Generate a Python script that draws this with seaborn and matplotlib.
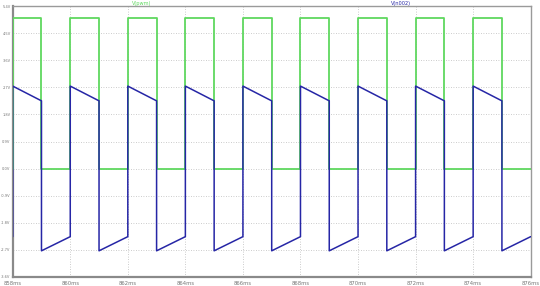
import matplotlib
matplotlib.use("Agg")
import matplotlib.pyplot as plt
import seaborn as sns
import pandas as pd

# ---- data ----
green_t = [858, 858, 859, 859, 860, 860, 861, 861, 862, 862, 863, 863,
           864, 864, 865, 865, 866, 866, 867, 867, 868, 868, 869, 869,
           870, 870, 871, 871, 872, 872, 873, 873, 874, 874, 875, 875, 876]
green_v = [0, 5, 5, 0, 0, 5, 5, 0, 0, 5, 5, 0,
           0, 5, 5, 0, 0, 5, 5, 0, 0, 5, 5, 0,
           0, 5, 5, 0, 0, 5, 5, 0, 0, 5, 5, 0, 0]
blue_t = [858, 858, 859, 859, 860, 860, 861, 861, 862, 862, 863, 863,
          864, 864, 865, 865, 866, 866, 867, 867, 868, 868, 869, 869,
          870, 870, 871, 871, 872, 872, 873, 873, 874, 874, 875, 875, 876]
blue_v = [-2.26, 2.74, 2.25, -2.73, -2.26, 2.74, 2.25, -2.73, -2.26, 2.74, 2.25, -2.73,
          -2.26, 2.74, 2.25, -2.73, -2.26, 2.74, 2.25, -2.73, -2.26, 2.74, 2.25, -2.73,
          -2.26, 2.74, 2.25, -2.73, -2.26, 2.74, 2.25, -2.73, -2.26, 2.74, 2.25, -2.73, -2.26]
y_ticks = [5.4, 4.5, 3.6, 2.7, 1.8, 0.9, 0.0, -0.9, -1.8, -2.7, -3.6]
y_labels = ["5.4V", "4.5V", "3.6V", "2.7V", "1.8V", "0.9V", "0.0V",
            "-0.9V", "-1.8V", "-2.7V", "-3.6V"]
x_ticks = [858, 860, 862, 864, 866, 868, 870, 872, 874, 876]
x_labels = ["858ms", "860ms", "862ms", "864ms", "866ms", "868ms",
            "870ms", "872ms", "874ms", "876ms"]
trace_names = ["V(pwm)", "V(n002)"]

GREEN = "#5fd85f"
BLUE = "#2626a6"

sns.set_style("white")
plt.rcParams['font.family'] = ['DejaVu Sans']

fig = plt.figure(figsize=(5.4, 2.86), dpi=100)
ax = fig.add_axes([12.7 / 540, 1 - 277 / 286, (530.7 - 12.7) / 540, (277 - 6) / 286])

dg = pd.DataFrame({"t": green_t, "v": green_v})
db = pd.DataFrame({"t": blue_t, "v": blue_v})
sns.lineplot(data=dg, x="t", y="v", sort=False, estimator=None, color=GREEN,
             linewidth=1.3, ax=ax, zorder=3)
sns.lineplot(data=db, x="t", y="v", sort=False, estimator=None, color=BLUE,
             linewidth=1.1, ax=ax, zorder=4)

ax.set_xlim(858, 876)
ax.set_ylim(-3.6, 5.4)
ax.set_xticks(x_ticks)
ax.set_xticklabels(x_labels)
ax.set_yticks(y_ticks)
ax.set_yticklabels(y_labels)
ax.set_xlabel("")
ax.set_ylabel("")
ax.tick_params(axis="x", labelsize=3.8, colors="#777777", length=2, width=0.6, pad=1)
ax.tick_params(axis="y", labelsize=2.6, colors="#777777", length=1.2, width=0.6, pad=0.3)
ax.grid(True, color="#bbbbbb", linestyle=(0, (1, 2)), linewidth=0.6)
for side in ["left", "bottom"]:
    ax.spines[side].set_color("#8a8a8a")
    ax.spines[side].set_linewidth(1.6)
for side in ["top", "right"]:
    ax.spines[side].set_color("#9a9a9a")
    ax.spines[side].set_linewidth(1.0)

fig.text(141.5 / 540, 1 - 3.5 / 286, trace_names[0], color=GREEN, fontsize=3.6,
         ha="center", va="center")
fig.text(401 / 540, 1 - 3.5 / 286, trace_names[1], color=BLUE, fontsize=3.6,
         ha="center", va="center")

fig.savefig("out.png", dpi=100)
